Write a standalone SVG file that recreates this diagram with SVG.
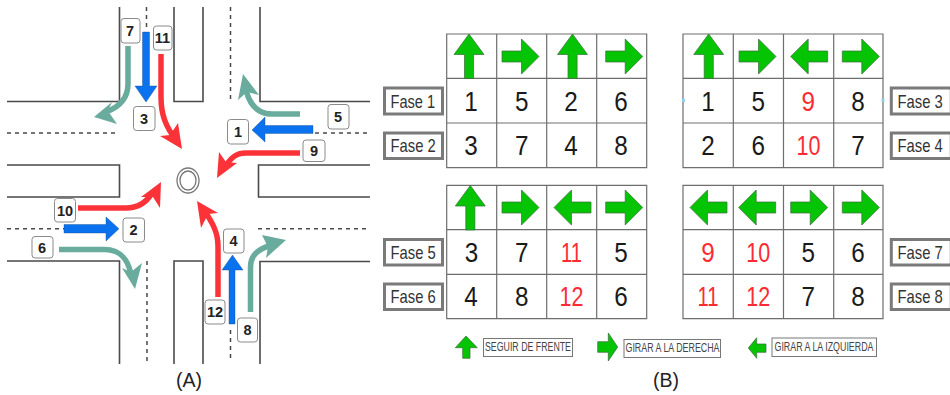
<svg xmlns="http://www.w3.org/2000/svg" width="950" height="395" viewBox="0 0 950 395">
<style>
text{font-family:"Liberation Sans",Arial,sans-serif}
.road{fill:none;stroke:#4a4a4a;stroke-width:1.6}
.dash{fill:none;stroke:#4a4a4a;stroke-width:1.5;stroke-dasharray:4 4}
.box rect{fill:#fff;stroke:#8a8a8a;stroke-width:1}
.box text{font-size:14.5px;font-weight:bold;fill:#222;text-anchor:middle}
.teal{fill:none;stroke:#69ab9c;stroke-width:5.5}
.tealh{fill:#69ab9c}
.blue{fill:#0a71ef;stroke:#1d4f8a;stroke-width:.4}
.red{fill:none;stroke:#fb3339;stroke-width:5.5}
.redh{fill:#fb3339}
.grid{fill:none;stroke:#6e6e6e;stroke-width:1.2}
.n{font-size:27px;fill:#1a1a1a;text-anchor:middle}
.r{fill:#fb2b33}
.g{fill:#04c404;stroke:#3c6a3c;stroke-width:.7}
.fb{fill:#fff;stroke:#7a7a7a;stroke-width:3}
.ft{font-size:18.5px;fill:#333}
.lb{fill:#fff;stroke:#777;stroke-width:1}
.lt{font-size:12px;fill:#444}
.cap{font-size:19.5px;fill:#222;text-anchor:middle}
</style>
<defs>
<polygon id="up" class="g" points="0,0 15,20.5 4.6,20.5 4.6,44.5 -4.5,44.5 -4.5,20.5 -15,20.5"/>
<polygon id="rt" class="g" points="0,-5.5 19.5,-5.5 19.5,-17.5 37,0 19.5,17.5 19.5,5.5 0,5.5"/>
<polygon id="lf" class="g" points="37,-5.5 17.5,-5.5 17.5,-17.5 0,0 17.5,17.5 17.5,5.5 37,5.5"/>
</defs>
<g id="roads">
<path class="road" d="M7 101.5H119.5V7"/>
<path class="road" d="M174 7V101.5H203V7"/>
<path class="road" d="M260 7V101.5H370"/>
<path class="road" d="M7 165H119.5V197H7"/>
<path class="road" d="M370 165H258.5V197H370"/>
<path class="road" d="M7 261H119.5V364"/>
<path class="road" d="M174 364V261H203V364"/>
<path class="road" d="M260 364V261.5H370"/>
<path class="dash" d="M146.500 7V28"/>
<path class="dash" d="M230.500 7V101"/>
<path class="dash" d="M7 133H119"/>
<path class="dash" d="M315 133H370"/>
<path class="dash" d="M7 228.700H64"/>
<path class="dash" d="M258 228.700H370"/>
<path class="dash" d="M147 261V361"/>
<path class="dash" d="M230.500 330V361"/>
</g>
<g id="roundabout" fill="none" stroke="#777" stroke-width="1.300">
<ellipse cx="188" cy="180.500" rx="11" ry="12.500"/>
<ellipse cx="188" cy="180.500" rx="8" ry="9.500"/>
</g>
<g id="connectors">
<path class="teal" d="M128 46V84C128 96 122 106 106 112"/><polygon class="tealh" points="94,117 112,102 108,111 117,124"/>
<polygon class="blue" points="142.500,32 149.500,32 149.500,86 157,86 146,102 135,86 142.500,86"/>
<path class="red" d="M161 54V97C161 115 166 127 176 140"/><polygon class="redh" points="182,149 160,136 170,135 178,123"/>
<path class="teal" d="M300 114H272C258 114 250 106 246 90"/><polygon class="tealh" points="243,74 259,95 247,92 238,100"/>
<polygon class="blue" points="313,125.500 313,133.500 265,133.500 265,142 252,130 265,117 265,125.500"/>
<path class="red" d="M300 153H246C236 153 230 158 224 169"/><polygon class="redh" points="217,178 219,152 226,162 237,163"/>
<path class="red" d="M78 208H126C138 208 146 203 152 193"/><polygon class="redh" points="161,182 160,208 153,197 141,197"/>
<polygon class="blue" points="64,224.500 106,224.500 106,217 119,228.700 106,241 106,233 64,233"/>
<path class="teal" d="M59 249.500H104C118 249.500 127 256 131 274"/><polygon class="tealh" points="135,289 122,268 131,272 142,263"/>
<path class="red" d="M218 297V246C218 232 212 222 204 210"/><polygon class="redh" points="197,201 218,213 208,214 201,228"/>
<polygon class="blue" points="229,324 235,324 235,270 243,270 232.500,255 222,270 229,270"/>
<path class="teal" d="M250.500 312V267C250.500 255 258 249 272 245"/><polygon class="tealh" points="286,240 266,258 268,247 262,235"/>
</g>
<g id="n7" class="box"><rect x="121" y="18.500" width="19" height="24.500" rx="3"/><text x="130" y="36">7</text></g>
<g id="n11" class="box"><rect x="153.500" y="26" width="18.500" height="24" rx="3"/><text x="162.500" y="43">11</text></g>
<g id="n3" class="box"><rect x="133.500" y="106.500" width="21.500" height="24" rx="3"/><text x="144" y="123.500">3</text></g>
<g id="n5" class="box"><rect x="328" y="104.500" width="21" height="24.500" rx="3"/><text x="338" y="121.500">5</text></g>
<g id="n1" class="box"><rect x="227.500" y="119.500" width="21" height="24.500" rx="3"/><text x="238" y="137">1</text></g>
<g id="n9" class="box"><rect x="303" y="140" width="22" height="21.500" rx="3"/><text x="314" y="155.500">9</text></g>
<g id="n10" class="box"><rect x="54.500" y="198.500" width="21" height="23.500" rx="3"/><text x="65" y="215.500">10</text></g>
<g id="n2" class="box"><rect x="123" y="218" width="21.500" height="24" rx="3"/><text x="133.500" y="234.500">2</text></g>
<g id="n6" class="box"><rect x="32" y="236.500" width="21" height="21.500" rx="3"/><text x="42" y="252.500">6</text></g>
<g id="n4" class="box"><rect x="223.500" y="229" width="20.500" height="24" rx="3"/><text x="233.500" y="245.500">4</text></g>
<g id="n12" class="box"><rect x="205" y="300" width="20" height="24" rx="3"/><text x="215" y="317">12</text></g>
<g id="n8" class="box"><rect x="237.500" y="318" width="20" height="24" rx="3"/><text x="247.500" y="335">8</text></g>
<text id="capA" class="cap" x="189" y="387">(A)</text>
<g id="table1">
<path class="grid" d="M446.700 34H646.700V167.700H446.700ZM446.700 78.300H646.700M446.700 123H646.700M496.700 34V167.700M546.700 34V167.700M596.700 34V167.700"/>
<use href="#up" x="469" y="34"/><use href="#rt" x="502" y="56.500"/><use href="#up" x="572.500" y="34"/><use href="#rt" x="605.700" y="56.500"/>
<g class="n"><text x="471" y="110.500" textLength="13.500" lengthAdjust="spacingAndGlyphs">1</text><text x="521.700" y="110.500" textLength="13.500" lengthAdjust="spacingAndGlyphs">5</text><text x="571" y="110.500" textLength="13.500" lengthAdjust="spacingAndGlyphs">2</text><text x="621" y="110.500" textLength="13.500" lengthAdjust="spacingAndGlyphs">6</text>
<text x="471" y="155" textLength="13.500" lengthAdjust="spacingAndGlyphs">3</text><text x="521.700" y="155" textLength="13.500" lengthAdjust="spacingAndGlyphs">7</text><text x="571" y="155" textLength="13.500" lengthAdjust="spacingAndGlyphs">4</text><text x="621" y="155" textLength="13.500" lengthAdjust="spacingAndGlyphs">8</text></g>
</g>
<g id="table2">
<path class="grid" d="M683 34H883V167.700H683ZM683 78.300H883M683 123H883M733.300 34V167.700M783.500 34V167.700M833.700 34V167.700"/>
<use href="#up" x="708.700" y="34"/><use href="#rt" x="739" y="56.500"/><use href="#lf" x="790.700" y="56.500"/><use href="#rt" x="842.300" y="56.500"/>
<g class="n"><text x="708" y="110.500" textLength="13.500" lengthAdjust="spacingAndGlyphs">1</text><text x="758.300" y="110.500" textLength="13.500" lengthAdjust="spacingAndGlyphs">5</text><text class="r" x="808.300" y="110.500" textLength="13.500" lengthAdjust="spacingAndGlyphs">9</text><text x="858" y="110.500" textLength="13.500" lengthAdjust="spacingAndGlyphs">8</text>
<text x="708" y="155" textLength="13.500" lengthAdjust="spacingAndGlyphs">2</text><text x="758.300" y="155" textLength="13.500" lengthAdjust="spacingAndGlyphs">6</text><text class="r" x="808.500" y="155" textLength="24" lengthAdjust="spacingAndGlyphs">10</text><text x="858" y="155" textLength="13.500" lengthAdjust="spacingAndGlyphs">7</text></g>
<rect x="682" y="99" width="3" height="3" fill="#8fd0ea"/><rect x="881.500" y="99" width="3" height="3" fill="#8fd0ea"/>
</g>
<g id="table3">
<path class="grid" d="M446.700 185.300H646.700V318.700H446.700ZM446.700 229.700H646.700M446.700 274.300H646.700M496.700 185.300V318.700M546.700 185.300V318.700M596.700 185.300V318.700"/>
<use href="#up" x="470.300" y="185.500"/><use href="#rt" x="502" y="207.500"/><use href="#lf" x="554" y="207.500"/><use href="#rt" x="605.700" y="207.500"/>
<g class="n"><text x="471.500" y="261.500" textLength="13.500" lengthAdjust="spacingAndGlyphs">3</text><text x="521.700" y="261.500" textLength="13.500" lengthAdjust="spacingAndGlyphs">7</text><text class="r" x="571.500" y="261.500" textLength="21" lengthAdjust="spacingAndGlyphs">11</text><text x="621" y="261.500" textLength="13.500" lengthAdjust="spacingAndGlyphs">5</text>
<text x="471" y="306" textLength="13.500" lengthAdjust="spacingAndGlyphs">4</text><text x="521.700" y="306" textLength="13.500" lengthAdjust="spacingAndGlyphs">8</text><text class="r" x="571.500" y="306" textLength="24" lengthAdjust="spacingAndGlyphs">12</text><text x="621" y="306" textLength="13.500" lengthAdjust="spacingAndGlyphs">6</text></g>
</g>
<g id="table4">
<path class="grid" d="M683 185.300H883V318.700H683ZM683 229.700H883M683 274.300H883M733.300 185.300V318.700M783.500 185.300V318.700M833.700 185.300V318.700"/>
<use href="#lf" x="690" y="207.500"/><use href="#lf" x="738.700" y="207.500"/><use href="#rt" x="790.700" y="207.500"/><use href="#rt" x="842.300" y="207.500"/>
<g class="n"><text class="r" x="708" y="261.500" textLength="13.500" lengthAdjust="spacingAndGlyphs">9</text><text class="r" x="758.300" y="261.500" textLength="24" lengthAdjust="spacingAndGlyphs">10</text><text x="808.300" y="261.500" textLength="13.500" lengthAdjust="spacingAndGlyphs">5</text><text x="858" y="261.500" textLength="13.500" lengthAdjust="spacingAndGlyphs">6</text>
<text class="r" x="708" y="306" textLength="21" lengthAdjust="spacingAndGlyphs">11</text><text class="r" x="758.300" y="306" textLength="24" lengthAdjust="spacingAndGlyphs">12</text><text x="808.300" y="306" textLength="13.500" lengthAdjust="spacingAndGlyphs">7</text><text x="858" y="306" textLength="13.500" lengthAdjust="spacingAndGlyphs">8</text></g>
</g>
<g id="fase1"><rect class="fb" x="384.500" y="88" width="58" height="26"/><text class="ft" transform="translate(390.500 107.500) scale(.79 1)">Fase 1</text></g>
<g id="fase2"><rect class="fb" x="384.500" y="133" width="58" height="25.500"/><text class="ft" transform="translate(390.500 152) scale(.8 1)">Fase 2</text></g>
<g id="fase3"><rect class="fb" x="891.300" y="88" width="60" height="26"/><text class="ft" transform="translate(897.500 107.500) scale(.8 1)">Fase 3</text></g>
<g id="fase4"><rect class="fb" x="891.300" y="133" width="60" height="25.500"/><text class="ft" transform="translate(897.500 152) scale(.8 1)">Fase 4</text></g>
<g id="fase5"><rect class="fb" x="384.500" y="239.500" width="58" height="25.500"/><text class="ft" transform="translate(390.500 258.500) scale(.8 1)">Fase 5</text></g>
<g id="fase6"><rect class="fb" x="384.500" y="284" width="58" height="25.500"/><text class="ft" transform="translate(390.500 303) scale(.8 1)">Fase 6</text></g>
<g id="fase7"><rect class="fb" x="891.300" y="239.500" width="60" height="25.500"/><text class="ft" transform="translate(897.500 258.500) scale(.8 1)">Fase 7</text></g>
<g id="fase8"><rect class="fb" x="891.300" y="284" width="60" height="25.500"/><text class="ft" transform="translate(897.500 303) scale(.8 1)">Fase 8</text></g>
<g id="legend1"><polygon class="g" points="466,336 477.300,347.700 470,347.700 470,358.300 462.700,358.300 462.700,347.700 455.300,347.700"/><rect class="lb" x="483.500" y="338.500" width="89" height="18"/><text class="lt" x="485" y="350.500" textLength="86" lengthAdjust="spacingAndGlyphs">SEGUIR DE FRENTE</text></g>
<g id="legend2"><polygon class="g" points="597.700,341.700 608.300,341.700 608.300,333 617.700,347 608.300,361 608.300,352.300 597.700,352.300"/><rect class="lb" x="624" y="339.500" width="96.500" height="18"/><text class="lt" x="625.500" y="352" textLength="94" lengthAdjust="spacingAndGlyphs">GIRAR A LA DERECHA</text></g>
<g id="legend3"><polygon class="g" points="766,344 756.700,344 756.700,337.700 748.300,348 756.700,358.300 756.700,352.300 766,352.300"/><rect class="lb" x="772" y="338" width="104.500" height="18.500"/><text class="lt" x="774.500" y="350.500" textLength="99" lengthAdjust="spacingAndGlyphs">GIRAR A LA IZQUIERDA</text></g>
<text id="capB" class="cap" x="666" y="387">(B)</text>
</svg>
